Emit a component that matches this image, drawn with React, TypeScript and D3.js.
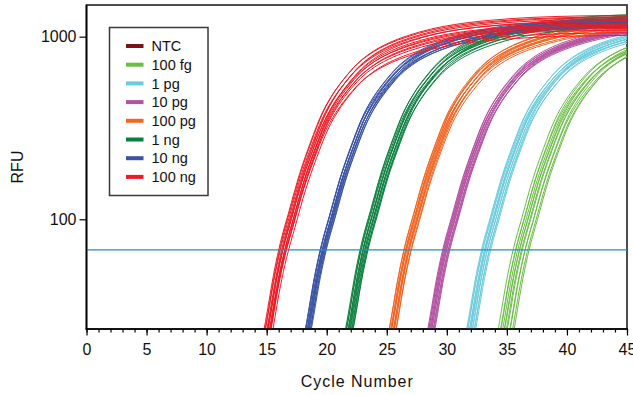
import { useEffect, useRef } from 'react';
import * as d3 from 'd3';

const WIDTH = 633;
const HEIGHT = 395;

// legend order
const seriesNames = ['NTC', '100 fg', '1 pg', '10 pg', '100 pg', '1 ng', '10 ng', '100 ng'];
const seriesColors = ['#7d1315', '#6abd45', '#6ccbdc', '#b452a2', '#f26522', '#0c7f3e', '#3a53a4', '#ed1c24'];

// amplification profile (cycles relative to Ct -> RFU)
const profileOffset = [-2.2, -1.25, -0.5, 0, 0.7, 1.6, 2.5, 3.45, 4.3, 5.25, 6.3, 7.45, 9, 10.5, 12.5, 15, 17.5, 21, 25, 30];
const profileRfu = [12, 25, 48, 68, 100, 162, 240, 345, 435, 530, 635, 730, 830, 905, 985, 1055, 1100, 1140, 1160, 1170];

// replicates: [Ct, plateau factor]
const ntcReps: number[][] = [];
const fg100Reps = [
  [35.55, 1.02], [35.7, 0.98], [35.8, 1.04], [35.9, 1.0], [36.0, 0.97], [36.1, 1.03],
  [36.2, 0.99], [36.3, 1.01], [36.45, 0.96], [36.55, 1.02], [36.7, 0.98], [36.85, 1.0],
];
const pg1Reps = [
  [32.95, 1.04], [33.0, 1.0], [33.05, 1.06], [33.12, 0.98], [33.18, 1.03], [33.25, 1.01],
  [33.3, 1.05], [33.35, 0.99], [33.42, 1.02], [33.5, 0.97], [33.58, 1.03], [33.65, 1.0],
];
const pg10Reps = [
  [29.7, 1.03], [29.75, 1.0], [29.8, 1.06], [29.85, 1.02], [29.9, 0.99], [29.95, 1.05],
  [30.0, 1.01], [30.05, 1.04], [30.1, 0.98], [30.15, 1.03], [30.2, 1.0], [30.28, 1.02],
];
const pg100Reps = [
  [26.5, 1.04], [26.55, 1.08], [26.6, 1.0], [26.65, 1.06], [26.7, 1.02], [26.75, 1.1],
  [26.8, 0.98], [26.85, 1.05], [26.9, 1.01], [26.95, 1.07], [27.0, 0.97], [27.05, 1.03],
];
const ng1Reps = [
  [22.95, 1.12], [23.0, 1.08], [23.05, 1.15], [23.1, 1.05], [23.15, 1.1], [23.2, 1.03],
  [23.25, 1.13], [23.3, 1.07], [23.35, 1.0], [23.4, 1.09], [23.5, 1.04], [23.55, 1.11],
];
const ng10Reps = [
  [19.5, 1.02], [19.55, 1.06], [19.6, 0.99], [19.62, 1.08], [19.68, 1.03], [19.7, 0.97],
  [19.75, 1.05], [19.8, 1.0], [19.82, 1.07], [19.88, 0.98], [19.92, 1.04], [19.98, 1.01],
];
const ng100Reps = [
  [16.15, 1.1], [16.2, 1.04], [16.25, 1.12], [16.3, 0.98], [16.35, 1.07], [16.38, 1.01], [16.42, 0.95],
  [16.45, 1.09], [16.5, 0.93], [16.52, 1.0], [16.58, 0.97], [16.6, 1.05], [16.65, 0.9], [16.4, 0.87],
];
const seriesReps = [ntcReps, fg100Reps, pg1Reps, pg10Reps, pg100Reps, ng1Reps, ng10Reps, ng100Reps];

const threshold = 68;
const xMajorTicks = [0, 5, 10, 15, 20, 25, 30, 35, 40, 45];
const yTicks = [100, 1000];

export default function App() {
  const svgRef = useRef<SVGSVGElement>(null);

  useEffect(() => {
    if (!svgRef.current) return;
    const svg = d3.select(svgRef.current);
    svg.selectAll('*').remove();

    const left = 86.5;
    const right = 627;
    const top = 5;
    const bottom = 329;
    const font = '"Liberation Sans", Arial, Helvetica, sans-serif';

    const x = d3.scaleLinear().domain([0, 45]).range([left, right]);
    const y = d3.scaleLog().domain([25.07, 1491]).range([bottom, top]);

    svg.append('defs')
      .append('clipPath')
      .attr('id', 'plot-clip')
      .append('rect')
      .attr('x', left)
      .attr('y', top)
      .attr('width', right - left)
      .attr('height', bottom - top);

    // frame
    svg.append('rect')
      .attr('x', left)
      .attr('y', top)
      .attr('width', right - left)
      .attr('height', bottom - top)
      .style('fill', 'none')
      .style('stroke', '#3a3a3a')
      .style('stroke-width', 1.8);

    const line = d3
      .line<[number, number]>()
      .x((d) => x(d[0]))
      .y((d) => y(d[1]))
      .curve(d3.curveMonotoneX);

    const curves = svg.append('g').attr('clip-path', 'url(#plot-clip)');
    seriesReps.forEach((reps, i) => {
      reps.forEach(([ct, k]) => {
        const pts = profileOffset.map((o, j) => [ct + o, profileRfu[j] * k] as [number, number]);
        curves.append('path')
          .attr('d', line(pts))
          .style('fill', 'none')
          .style('stroke', seriesColors[i])
          .style('stroke-width', 1);
      });
    });

    // threshold
    svg.append('line')
      .attr('x1', left)
      .attr('x2', right)
      .attr('y1', y(threshold))
      .attr('y2', y(threshold))
      .style('stroke', '#1b8fd0')
      .style('stroke-width', 1.3);

    // axes
    const xMinor = svg.append('g')
      .attr('transform', `translate(0, ${bottom})`)
      .call(d3.axisBottom(x).tickValues(d3.range(0, 46)).tickSize(3.5).tickSizeOuter(0).tickFormat(() => ''));
    xMinor.select('.domain').remove();

    const xAxis = svg.append('g')
      .attr('transform', `translate(0, ${bottom})`)
      .call(d3.axisBottom(x).tickValues(xMajorTicks).tickSize(6.5).tickSizeOuter(0).tickPadding(8.5).tickFormat(d3.format('d')));
    xAxis.select('.domain').remove();

    const yAxis = svg.append('g')
      .attr('transform', `translate(${left}, 0)`)
      .call(d3.axisLeft(y).tickValues(yTicks).tickSize(7).tickSizeOuter(0).tickPadding(3).tickFormat(d3.format('d')));
    yAxis.select('.domain').remove();

    [xMinor, xAxis, yAxis].forEach((g) => {
      g.selectAll('line').style('stroke', '#000').style('stroke-width', 1.2);
      g.selectAll('text').style('font-family', font).style('font-size', '16px').style('fill', '#111');
    });

    svg.append('line')
      .attr('x1', left).attr('x2', left).attr('y1', top).attr('y2', bottom + 0.6)
      .style('stroke', '#000').style('stroke-width', 1.6);
    svg.append('line')
      .attr('x1', left - 0.8).attr('x2', right + 0.9).attr('y1', bottom).attr('y2', bottom)
      .style('stroke', '#000').style('stroke-width', 1.6);

    // axis titles
    svg.append('text')
      .attr('x', (left + right) / 2)
      .attr('y', 387)
      .attr('textLength', 112)
      .attr('lengthAdjust', 'spacing')
      .style('text-anchor', 'middle')
      .style('font-family', font)
      .style('font-size', '16px')
      .style('fill', '#111')
      .text('Cycle Number');

    svg.append('text')
      .attr('transform', `translate(17, ${(top + bottom) / 2}) rotate(-90)`)
      .attr('dy', '0.36em')
      .style('text-anchor', 'middle')
      .style('font-family', font)
      .style('font-size', '16px')
      .style('fill', '#111')
      .text('RFU');

    // legend
    const legend = svg.append('g').attr('transform', 'translate(109.5, 27.5)');
    legend.append('rect')
      .attr('width', 98.5)
      .attr('height', 168)
      .style('fill', '#fff')
      .style('stroke', '#3a3a3a')
      .style('stroke-width', 1.5);

    const items = legend.selectAll('.legend-item')
      .data(seriesNames)
      .enter()
      .append('g')
      .attr('class', 'legend-item')
      .attr('transform', (d, i) => `translate(0, ${18.5 + i * 18.7})`);

    items.append('rect')
      .attr('x', 16.5)
      .attr('y', -2)
      .attr('width', 17.5)
      .attr('height', 4)
      .style('fill', (d, i) => seriesColors[i]);

    items.append('text')
      .attr('x', 42)
      .attr('dy', '0.36em')
      .style('font-family', font)
      .style('font-size', '14.5px')
      .style('fill', '#111')
      .text((d) => d);
  }, []);

  return (
    <svg
      ref={svgRef}
      width={WIDTH}
      height={HEIGHT}
      style={{ position: 'absolute', left: 0, top: 0, background: '#fff' }}
    />
  );
}
